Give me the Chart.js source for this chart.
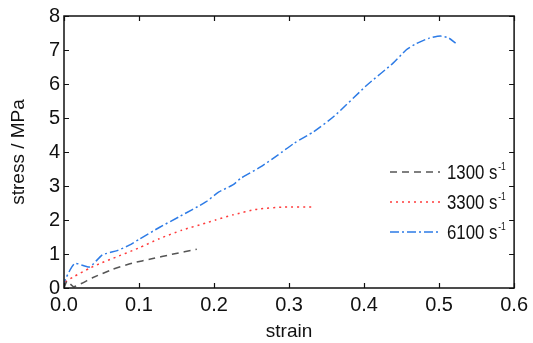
<!DOCTYPE html>
<html><head><meta charset="utf-8">
<script src="https://cdn.jsdelivr.net/npm/chart.js@4/dist/chart.umd.min.js"></script>
<style>html,body{margin:0;padding:0;background:#fff}#wrap{width:533px;height:343px}</style>
</head><body><div id="wrap"><canvas id="c" width="533" height="343"></canvas></div>
<script>
const xTicks = [0, 0.1, 0.2, 0.3, 0.4, 0.5, 0.6];
const yTicks = [0, 1, 2, 3, 4, 5, 6, 7, 8];
const seriesNames = ["1300 s", "3300 s", "6100 s"];
const seriesUnitSup = "-1";

const strain1300 = [0, 0.004, 0.013, 0.038, 0.065, 0.091, 0.117, 0.144, 0.177];
const stress1300 = [0, 0.2, 0.04, 0.3, 0.55, 0.73, 0.86, 0.99, 1.14];

const strain3300 = [0, 0.002, 0.012, 0.034, 0.051, 0.065, 0.1, 0.127, 0.157, 0.189, 0.202, 0.225, 0.258, 0.294, 0.332];
const stress3300 = [0, 0.17, 0.32, 0.58, 0.75, 0.87, 1.18, 1.45, 1.7, 1.91, 2.0, 2.15, 2.32, 2.38, 2.38];

const strain6100 = [0, 0.002, 0.0145, 0.034, 0.051, 0.071, 0.087, 0.1, 0.127, 0.153, 0.189, 0.206, 0.225, 0.236, 0.262, 0.285, 0.307, 0.333, 0.36, 0.404, 0.439, 0.456, 0.469, 0.487, 0.502, 0.513, 0.522];
const stress6100 = [0, 0.26, 0.72, 0.62, 0.97, 1.1, 1.26, 1.43, 1.78, 2.09, 2.53, 2.82, 3.03, 3.23, 3.56, 3.91, 4.26, 4.6, 5.05, 5.97, 6.62, 7.0, 7.18, 7.35, 7.41, 7.35, 7.2];

const FONT = '"Liberation Sans", Arial, sans-serif';
const pts = (xs, ys) => xs.map((x, i) => ({x, y: ys[i]}));

const styles = [
  {color: '#555555', dash: [7, 5]},
  {color: '#ff3b3b', dash: [2, 4]},
  {color: '#2d7be6', dash: [9, 3, 2, 3]}
];
const dataList = [pts(strain1300, stress1300), pts(strain3300, stress3300), pts(strain6100, stress6100)];

const framePlugin = {
  id: 'frame',
  afterDraw(chart) {
    const {ctx, chartArea: a, scales: {x, y}} = chart;
    ctx.save();
    ctx.strokeStyle = '#111';
    ctx.lineWidth = 1.5;
    ctx.setLineDash([]);
    ctx.strokeRect(a.left, a.top, a.right - a.left, a.bottom - a.top);
    ctx.lineWidth = 1.2;
    ctx.beginPath();
    xTicks.forEach(v => {
      const px = Math.round(x.getPixelForValue(v)) + 0.5;
      ctx.moveTo(px, a.bottom); ctx.lineTo(px, a.bottom - 5);
      ctx.moveTo(px, a.top); ctx.lineTo(px, a.top + 5);
    });
    yTicks.forEach(v => {
      const py = Math.round(y.getPixelForValue(v)) + 0.5;
      ctx.moveTo(a.left, py); ctx.lineTo(a.left + 5, py);
      ctx.moveTo(a.right, py); ctx.lineTo(a.right - 5, py);
    });
    ctx.stroke();
    // legend
    const lx = 390, ly0 = 172, step = 30;
    ctx.textBaseline = 'alphabetic';
    ctx.fillStyle = '#111';
    chart.data.datasets.forEach((ds, i) => {
      const yy = ly0 + i * step;
      ctx.strokeStyle = ds.borderColor;
      ctx.lineWidth = 1.5;
      ctx.setLineDash(ds.borderDash);
      ctx.beginPath();
      ctx.moveTo(lx, yy); ctx.lineTo(lx + 50, yy);
      ctx.stroke();
      ctx.setLineDash([]);
      ctx.save();
      ctx.translate(lx + 57, yy + 7);
      ctx.scale(0.84, 1);
      ctx.font = '20px ' + FONT;
      ctx.fillText(ds.label, 0, 0);
      const w = ctx.measureText(ds.label).width;
      ctx.font = '10px ' + FONT;
      ctx.fillText(seriesUnitSup, w + 1, -9);
      ctx.restore();
    });
    ctx.restore();
  }
};

new Chart(document.getElementById('c'), {
  type: 'scatter',
  data: {
    datasets: dataList.map((d, i) => ({
      label: seriesNames[i],
      data: d,
      showLine: true,
      borderColor: styles[i].color,
      backgroundColor: styles[i].color,
      borderDash: styles[i].dash,
      borderWidth: 1.5,
      pointRadius: 0,
      tension: 0.2,
      fill: false
    }))
  },
  options: {
    responsive: false,
    animation: false,
    layout: {padding: {top: 16, right: 14, left: 7, bottom: 0}},
    plugins: {legend: {display: false}, tooltip: {enabled: false}},
    scales: {
      x: {
        type: 'linear', min: 0, max: 0.6,
        afterBuildTicks: s => { s.ticks = xTicks.map(v => ({value: v})); },
        afterFit: s => { s.height = 55; },
        grid: {display: false, drawTicks: false},
        border: {display: false},
        ticks: {padding: 5, color: '#111', font: {family: FONT, size: 20}, maxRotation: 0,
          callback: v => v.toFixed(1)},
        title: {display: true, text: 'strain', color: '#111', font: {family: FONT, size: 19}, padding: {top: 4, bottom: 0}}
      },
      y: {
        type: 'linear', min: 0, max: 8,
        afterBuildTicks: s => { s.ticks = yTicks.map(v => ({value: v})); },
        afterFit: s => { s.width = 57; },
        grid: {display: false, drawTicks: false},
        border: {display: false},
        ticks: {padding: 4, color: '#111', font: {family: FONT, size: 20}, callback: v => String(v)},
        title: {display: true, text: 'stress / MPa', color: '#111', font: {family: FONT, size: 19}, padding: {top: 0, bottom: 4}}
      }
    }
  },
  plugins: [framePlugin]
});
</script></body></html>
